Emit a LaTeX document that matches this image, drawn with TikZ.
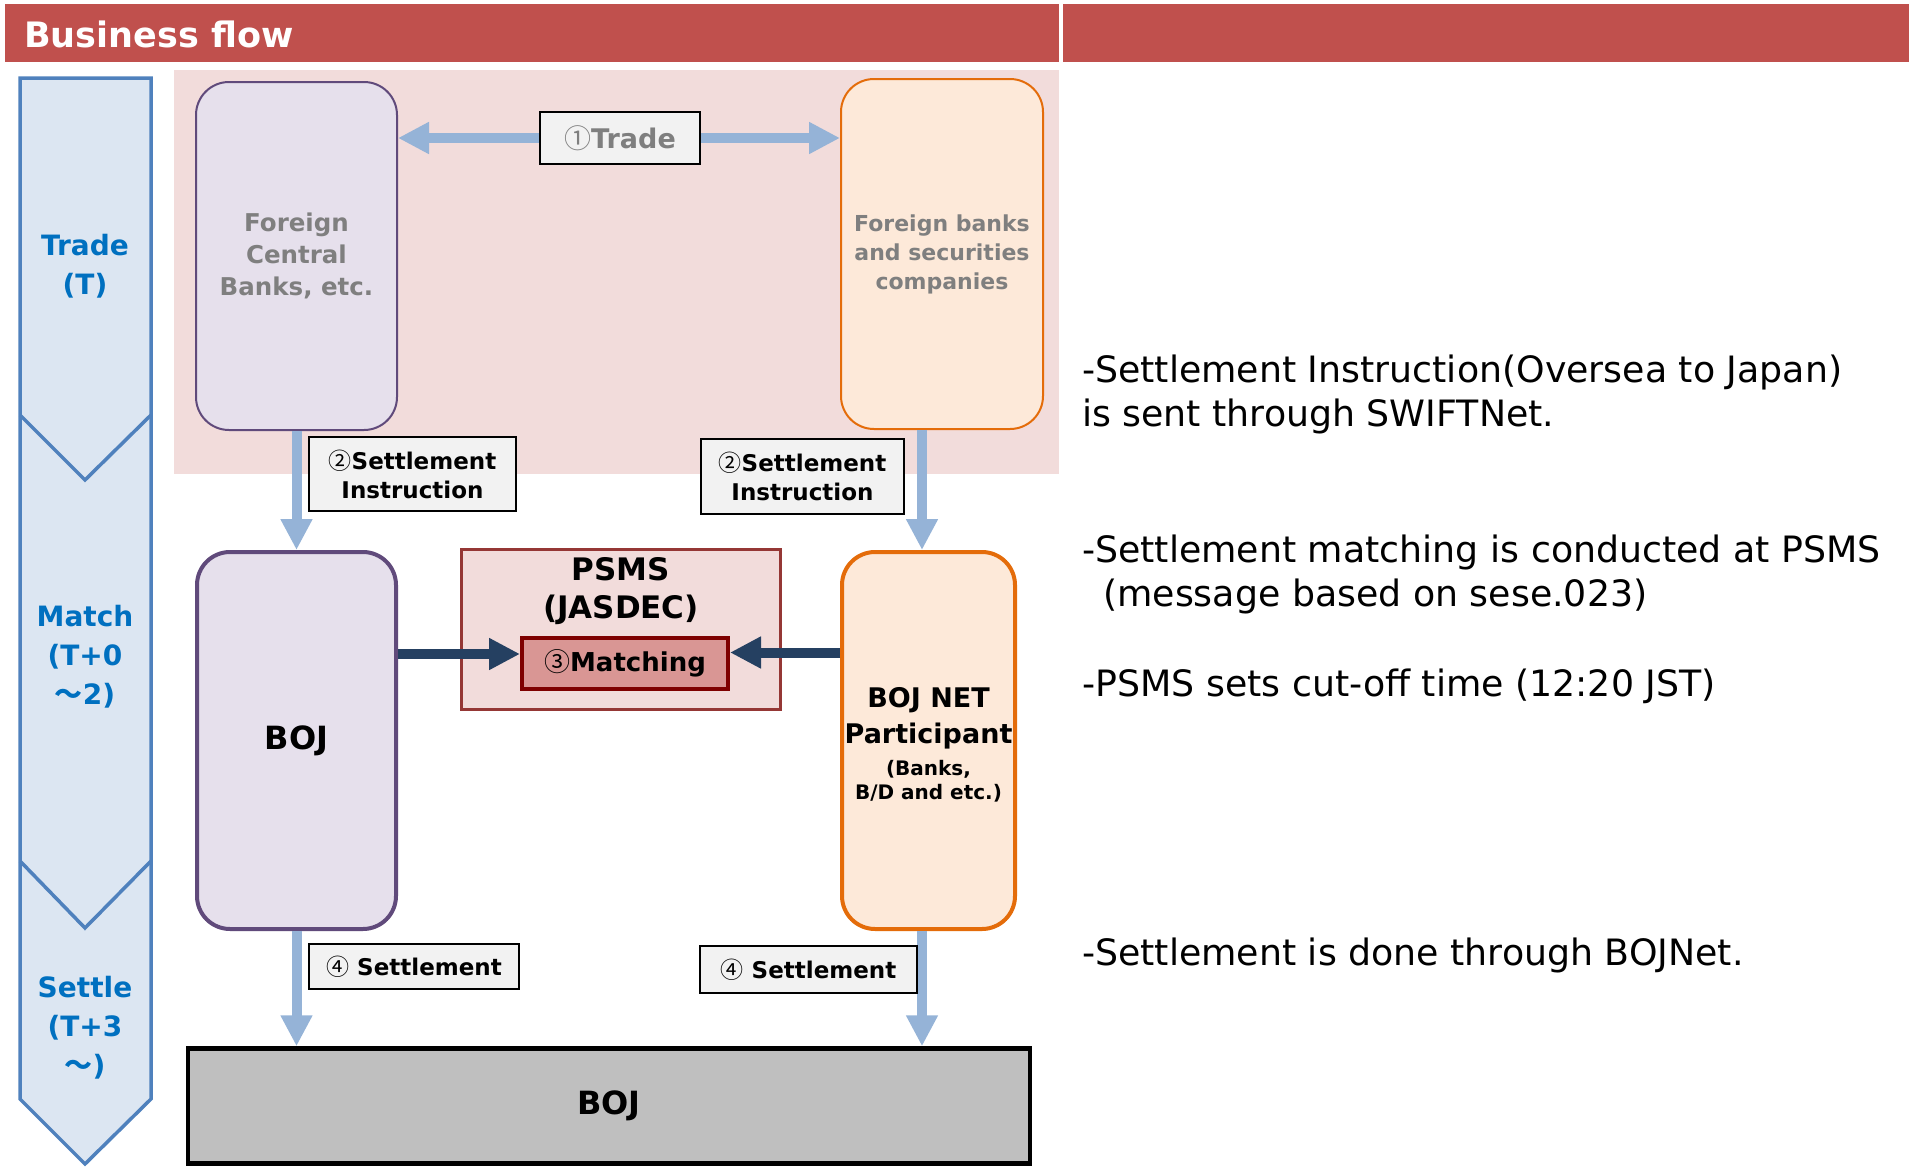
\documentclass[tikz,border=0pt]{standalone}
\usepackage{fontspec}
\setmainfont{DejaVu Sans}
\newfontfamily\cjk{Noto Sans CJK JP}
\usetikzlibrary{arrows.meta}

\definecolor{headred}{HTML}{C0504D}
\definecolor{tradebg}{HTML}{F2DCDB}
\definecolor{lavfill}{HTML}{E6E0EC}
\definecolor{lavline}{HTML}{604A7B}
\definecolor{peachfill}{HTML}{FDE9D9}
\definecolor{peachline}{HTML}{E46C0A}
\definecolor{stagefill}{HTML}{DCE6F2}
\definecolor{stageline}{HTML}{4F81BD}
\definecolor{stagetext}{HTML}{0070C0}
\definecolor{flowblue}{HTML}{95B3D7}
\definecolor{flownavy}{HTML}{254061}
\definecolor{psmsline}{HTML}{953735}
\definecolor{matchfill}{HTML}{D99694}
\definecolor{matchline}{HTML}{7F0000}
\definecolor{tagfill}{HTML}{F2F2F2}
\definecolor{greytext}{HTML}{7F7F7F}
\definecolor{bojgrey}{HTML}{BFBFBF}

\newcommand{\fs}[2]{\fontsize{#1}{#2}\selectfont}
\newcommand{\circnum}[1]{{\cjk\mdseries #1}}

\begin{document}
\begin{tikzpicture}[x=1pt,y=-1pt,
    every node/.style={inner sep=0pt},
    lavbox/.style={draw=lavline,fill=lavfill,rounded corners=33pt,line width=2pt},
    peachbox/.style={draw=peachline,fill=peachfill,rounded corners=33pt,line width=2pt},
    tagbox/.style={draw=black,fill=tagfill,line width=2pt,align=center,font=\bfseries\fs{23}{29}},
    bluearrow/.style={draw=flowblue,line width=10pt,-{Triangle[width=30pt,length=31pt]}},
    navyarrow/.style={draw=flownavy,line width=10pt,-{Triangle[width=30pt,length=31pt]}},
    stage/.style={text=stagetext,font=\bfseries\fs{28}{39},align=center},
    note/.style={anchor=north west,align=left,font=\fs{36.3}{44}}]
  \useasboundingbox (0,0) rectangle (1915,1167);

  % header
  \fill[headred] (5,4) rectangle (1059,62);
  \fill[headred] (1063,4) rectangle (1909,62);
  \node[anchor=base west,text=white,font=\bfseries\fs{35}{42}] (title) at (24,47) {Business flow};

  % stages
  \filldraw[fill=stagefill,draw=stageline,line width=3.5pt] (20,78) -- (151,78) -- (151,1099) -- (85,1164) -- (20,1099) -- cycle;
  \draw[stageline,line width=3.5pt] (20,415) -- (85,480) -- (151,415);
  \draw[stageline,line width=3.5pt] (20,861) -- (85,928) -- (151,861);
  \node[stage] (trade stage) at (85,266) {Trade\\(T)};
  \node[stage] (match stage) at (85,657) {Match\\(T+0\\{\cjk ～}2)};
  \node[stage] (settle stage) at (85,1028) {Settle\\(T+3\\{\cjk ～})};

  % overseas side
  \fill[tradebg] (174,70) rectangle (1059,474);
  \node[lavbox,minimum width=201pt,minimum height=348pt,text=greytext,align=center,
    font=\bfseries\fs{24.5}{32}] (fcb) at (296.5,256) {Foreign\\Central\\Banks, etc.};
  \node[peachbox,minimum width=202pt,minimum height=350pt,text=greytext,align=center,
    font=\bfseries\fs{22}{29}] (fsec) at (942,254) {Foreign banks\\and securities\\companies};

  % japan side
  \node[lavbox,line width=4pt,minimum width=199pt,minimum height=377pt,
    font=\bfseries\fs{32}{38}] (boj) at (296.5,740.5) {BOJ};
  \node[peachbox,line width=4pt,minimum width=173pt,minimum height=377pt] (bojnet) at (928.5,740.5) {};
  \node[align=center,font=\bfseries\fs{27}{36}] (bojnet text) at (928.5,745)
    {BOJ NET\\Participant\\[-4pt]{\fs{20}{24}(Banks,}\\[-12pt]{\fs{20}{24}B/D and etc.)}};
  \node[draw=psmsline,fill=tradebg,line width=3pt,minimum width=319pt,minimum height=160pt] (psms) at (621,629.5) {};
  \node[align=center,font=\bfseries\fs{31}{38}] (psms title) at (621,591) {PSMS\\(JASDEC)};
  \node[draw=matchline,fill=matchfill,line width=4pt,minimum width=206pt,minimum height=51pt,
    font=\bfseries\fs{26}{30}] (match) at (625,663.5) {\circnum{③}Matching};
  \node[draw=black,fill=bojgrey,line width=4.5pt,minimum width=842pt,minimum height=115pt,
    font=\bfseries\fs{32}{38}] (bojbase) at (609,1106) {BOJ};

  % flows
  \node[tagbox,minimum width=160pt,minimum height=52pt,text=greytext,
    font=\bfseries\fs{27}{32}] (trade) at (620,138) {\circnum{①}Trade};
  \draw[bluearrow] (trade.west) -- (trade.west -| fcb.east);
  \draw[bluearrow] (trade.east) -- (trade.east -| fsec.west);

  \draw[bluearrow] (fcb.south) -- (boj.north);
  \draw[bluearrow] ([xshift=-20pt]fsec.south) -- ([xshift=-20pt]fsec.south |- bojnet.north);
  \node[tagbox,minimum width=207pt,minimum height=74pt] (sil) at (412.5,474) {\circnum{②}Settlement\\Instruction};
  \node[tagbox,minimum width=203pt,minimum height=75pt] (sir) at (802.5,476.5) {\circnum{②}Settlement\\Instruction};

  \coordinate (mleft) at ([yshift=9.5pt]match.west);
  \coordinate (mright) at ([yshift=11pt]match.east);
  \draw[navyarrow] (boj.east |- mleft) -- (mleft);
  \draw[navyarrow] (bojnet.west |- mright) -- (mright);

  \draw[bluearrow] (boj.south) -- (boj.south |- bojbase.north);
  \draw[bluearrow] ([xshift=-6.5pt]bojnet.south) -- ([xshift=-6.5pt]bojnet.south |- bojbase.north);
  \node[tagbox,minimum width=210pt,minimum height=45pt] (setl) at (414,966.5) {\circnum{④} Settlement};
  \node[tagbox,minimum width=217pt,minimum height=47pt] (setr) at (808.5,969.5) {\circnum{④} Settlement};

  % notes
  \node[note] (note1) at (1082,354.6) {-Settlement Instruction(Oversea to Japan)\\is sent through SWIFTNet.};
  \node[note] (note2) at (1082,534.6) {-Settlement matching is conducted at PSMS\\\hspace*{21pt}(message based on sese.023)};
  \node[note] (note3) at (1082,668.6) {-PSMS sets cut-off time (12:20 JST)};
  \node[note] (note4) at (1082,937.6) {-Settlement is done through BOJNet.};
\end{tikzpicture}
\end{document}
